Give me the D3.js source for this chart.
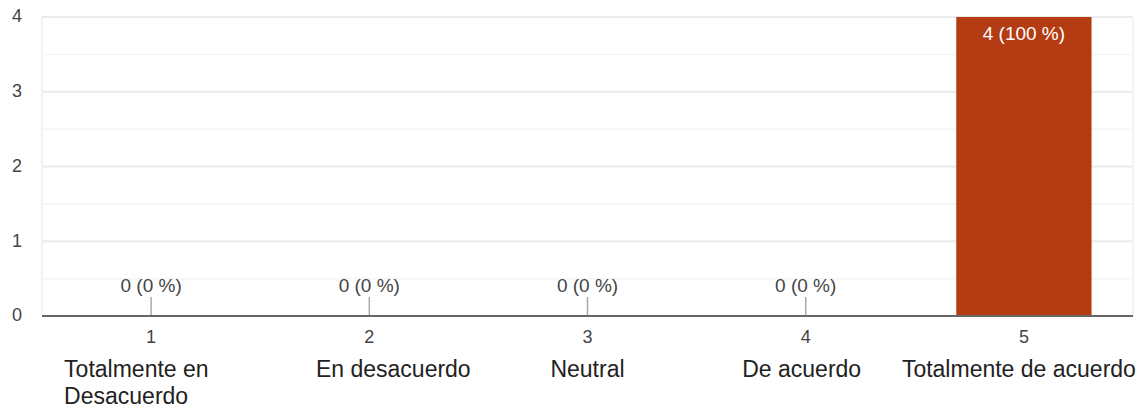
<!DOCTYPE html>
<html><head><meta charset="utf-8">
<script src="https://cdn.jsdelivr.net/npm/d3@7"></script>
<style>body{margin:0;background:#fff}svg{display:block}</style>
</head><body>
<svg id="c" width="1145" height="409"></svg>
<script>
const categories = ["1","2","3","4","5"];
const categoryNames = [["Totalmente en","Desacuerdo"],["En desacuerdo"],["Neutral"],["De acuerdo"],["Totalmente de acuerdo"]];
const counts = [0,0,0,0,4];
const percents = [0,0,0,0,100];
const yTicks = [0,1,2,3,4];

// layout only: horizontal nudge of each category name relative to its band centre
const nameShift = [-87, 24, 0, -4, -5];
const nameAnchor = ["start","middle","middle","middle","middle"];

const svg = d3.select("#c");
const m = {l:42, r:1133, t:17, b:316};
const font = "'Liberation Sans', Arial, sans-serif";
const x = d3.scaleBand().domain(categories).range([m.l, m.r]).paddingInner(0.38).paddingOuter(0.19);
const y = d3.scaleLinear().domain([0,4]).range([m.b, m.t]);

// minor gridlines
svg.append("g").selectAll("line").data([0.5,1.5,2.5,3.5]).join("line")
  .attr("x1", m.l).attr("x2", m.r).attr("y1", d=>y(d)).attr("y2", d=>y(d))
  .attr("stroke", "#f5f5f5").attr("stroke-width", 1.5);
// major gridlines
svg.append("g").selectAll("line").data(yTicks.slice(1)).join("line")
  .attr("x1", m.l).attr("x2", m.r).attr("y1", d=>y(d)).attr("y2", d=>y(d))
  .attr("stroke", "#ebebeb").attr("stroke-width", 2);
// side borders
svg.append("g").selectAll("line").data([m.l, m.r]).join("line")
  .attr("x1", d=>d).attr("x2", d=>d).attr("y1", m.t).attr("y2", m.b)
  .attr("stroke", "#efefef").attr("stroke-width", 1.5);

// y labels
svg.append("g").selectAll("text").data(yTicks).join("text")
  .attr("x", 17).attr("y", d=>y(d) - 1).attr("dy", "0.35em")
  .attr("text-anchor", "middle").attr("font-family", font).attr("font-size", 18)
  .attr("fill", "#444").text(d=>d);

const data = categories.map((c,i)=>({c, i, v:counts[i], p:percents[i], names:categoryNames[i]}));

// bars
svg.append("g").selectAll("rect").data(data.filter(d=>d.v>0)).join("rect")
  .attr("x", d=>x(d.c)).attr("width", x.bandwidth())
  .attr("y", d=>y(d.v)).attr("height", d=>y(0)-y(d.v))
  .attr("fill", "#b43c12");

// small ticks for zero bars
svg.append("g").selectAll("line").data(data.filter(d=>d.v===0)).join("line")
  .attr("x1", d=>x(d.c)+x.bandwidth()/2).attr("x2", d=>x(d.c)+x.bandwidth()/2)
  .attr("y1", 297).attr("y2", y(0)).attr("stroke", "#aaa").attr("stroke-width", 1.5);

// value labels
svg.append("g").selectAll("text").data(data).join("text")
  .attr("x", d=>x(d.c)+x.bandwidth()/2)
  .attr("y", d=> d.v>0 ? y(d.v)+16 : 285).attr("dy","0.35em")
  .attr("text-anchor","middle").attr("font-family", font).attr("font-size", 19)
  .attr("fill", d=> d.v>0 ? "#fff" : "#444")
  .text(d=>`${d.v} (${d.p} %)`);

// axis baseline
svg.append("line").attr("x1", m.l).attr("x2", m.r).attr("y1", y(0)).attr("y2", y(0))
  .attr("stroke", "#666").attr("stroke-width", 2);

// x labels
const xl = svg.append("g").selectAll("g").data(data).join("g")
  .attr("transform", d=>`translate(${x(d.c)+x.bandwidth()/2},0)`);
xl.append("text").attr("y", 337).attr("dy","0.35em").attr("text-anchor","middle")
  .attr("font-family", font).attr("font-size", 18).attr("fill","#444").text(d=>d.c);
xl.each(function(d){
  const g = d3.select(this);
  d.names.forEach((n,k)=>{
    g.append("text").attr("x", nameShift[d.i]).attr("y", 369 + k*27).attr("dy","0.35em")
      .attr("text-anchor", nameAnchor[d.i])
      .attr("font-family", font).attr("font-size", 23).attr("fill","#222").text(n);
  });
});
</script>
</body></html>
